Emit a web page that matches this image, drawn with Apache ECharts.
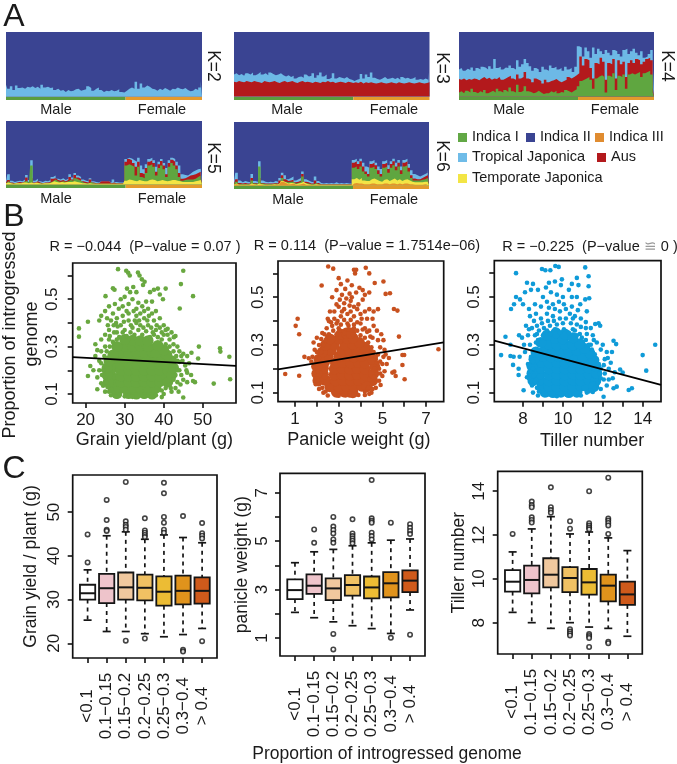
<!DOCTYPE html>
<html><head><meta charset="utf-8">
<style>html,body{margin:0;padding:0;background:#fff}#c{width:677px;height:764px}</style>
<script src="https://cdn.jsdelivr.net/npm/echarts@6/dist/echarts.min.js"></script>
</head><body><div id="c"></div>
<script>
var FONT='"Liberation Sans",Arial,sans-serif';
var NAVY='#3a4492',LTBLUE='#6db9e6',RED='#b3191c',GREEN='#5fa640',YELLOW='#f3e545',ORANGE='#e2942c';

// ---------- Panel A: admixture profiles (upper edge of each layer, % of the sample) ----------
var nMale=47;
var k2Blue=[18,12,16,10,17,13,14,12,15,14,16,13,15,12,18,14,15,13,14,10,12,9,10,7,10,8,9,11,12,9,10,11,16,13,9,12,14,10,7,9,8,10,8,9,11,7,6, 9,12,14,12,23,12,20,14,17,15,12,11,9,12,10,13,11,9,12,11,14,12,11,13,10,8,9,12,10,14,24];

var k3Blue=[34,36,33,35,32,36,34,37,33,35,38,34,36,33,37,35,33,34,36,33,31,33,30,32,28,30,31,29,34,31,32,36,29,33,37,31,34,27,29,36,28,30,29,28,30,27,26, 24,26,27,35,28,34,30,37,29,27,26,28,30,27,28,29,27,29,26,30,28,29,27,28,30,26,27,26,28,26,38];
var k3Red=[23,22,24,23,22,24,23,22,24,23,22,21,24,23,22,23,24,22,21,23,24,22,23,24,22,21,23,24,22,23,22,21,23,22,21,23,22,24,22,23,21,22,23,22,21,23,22, 21,22,21,23,20,22,21,22,21,20,21,22,21,20,21,22,21,20,22,21,20,21,22,21,20,21,22,21,20,21,22];

var k4Blue=[42,44,40,43,41,45,40,44,42,46,45,42,47,43,58,44,46,42,45,44,48,44,42,56,46,50,58,52,47,40,44,42,38,46,42,40,48,44,46,42,44,40,46,42,44,38,46, 78,76,62,76,70,60,76,66,74,70,66,72,68,64,72,70,66,62,72,74,66,70,74,68,64,70,60,62,66,72,54];
var k4Red=[27,26,28,25,27,26,28,27,25,28,30,27,29,26,28,27,30,26,28,30,32,28,26,34,28,30,38,28,26,22,28,26,24,20,26,22,24,25,27,24,22,24,26,30,28,30,33, 36,62,48,58,56,44,28,52,50,60,54,26,52,50,58,28,56,50,54,30,52,56,52,58,56,50,54,58,60,56,14];
var k4Green=[6,8,5,9,6,12,7,5,8,6,10,5,7,9,6,12,8,6,10,7,14,8,6,18,7,9,16,8,7,5,6,9,6,4,5,5,8,6,9,5,7,6,10,8,6,9,11, 16,24,26,28,30,26,12,28,31,33,30,6,32,30,36,10,32,30,34,12,34,36,34,36,38,30,36,38,40,34,6];

var k5Blue=[4,16,6,4,5,6,5,8,15,7,38,6,9,5,4,6,5,7,12,14,9,8,10,7,9,16,11,18,14,12,8,6,5,10,5,4,3,5,5,5,5,3,8,4,3,3,3, 40,42,41,38,36,42,30,24,32,40,42,38,28,36,40,34,26,38,42,40,36,30,16,15,14,17,20,22,24,25,22];
var k5Red=[3,7,3,2,3,4,3,5,11,4,10,3,5,3,2,3,3,4,9,10,7,6,7,5,7,12,8,15,11,9,5,4,3,8,3,2,2,5,5,5,5,2,3,2,2,2,2, 36,40,38,34,28,36,18,16,26,36,38,34,20,32,37,30,16,34,39,36,30,18,9,10,12,14,15,16,18,20,16];
var k5Green=[2,5,2,1,2,2,2,3,6,3,30,2,3,2,1,2,2,3,5,8,5,4,5,4,5,7,6,10,8,6,3,2,2,4,2,1,1,1,1,1,1,1,1,1,1,1,1, 30,32,30,28,14,28,12,10,18,30,32,28,14,26,30,24,12,28,34,30,24,12,6,7,8,8,8,9,12,14,10];
var k5Yellow=[2,3,2,1,2,2,2,3,3,2,3,2,3,2,1,2,2,2,3,5,4,3,4,3,4,4,4,5,4,3,2,2,1,2,1,1,1,1,1,1,1,1,1,1,1,1,1, 6,8,7,6,5,7,6,5,5,7,8,7,5,6,7,6,5,6,7,7,6,5,4,4,4,4,4,5,6,7,6];

var k6Blue=[6,20,8,5,7,6,5,18,7,6,38,8,6,5,6,5,7,6,12,20,16,10,12,14,8,10,12,22,10,8,6,5,14,7,4,3,4,3,4,3,5,3,4,3,4,3,3, 40,42,38,42,36,30,28,38,40,36,30,26,38,40,32,38,42,36,40,30,40,42,34,24,18,16,14,16,18,20,26];
var k6Red=[3,10,4,3,4,3,3,12,4,3,12,4,3,3,3,3,4,3,8,16,10,7,8,9,5,6,8,18,6,5,3,3,8,4,2,2,2,2,2,2,2,2,2,2,2,2,2, 36,38,34,38,30,22,18,34,36,32,24,18,34,36,26,34,38,30,36,24,36,38,28,16,11,10,10,12,14,16,22];
var k6Green=[2,6,2,2,2,2,2,8,3,2,30,3,2,2,2,2,3,2,5,12,6,5,6,6,3,4,6,14,4,3,2,2,4,2,1,1,1,1,1,1,1,1,1,1,1,1,1, 28,30,26,30,22,18,14,28,30,26,18,14,28,30,20,28,32,24,30,18,30,32,22,12,8,8,8,9,10,12,14];
var k6Yellow=[1,3,1,1,1,1,1,3,2,1,3,2,1,1,1,1,2,1,3,7,5,3,4,4,2,3,4,6,3,2,1,1,2,1,1,1,1,1,1,1,1,1,1,1,1,1,1, 10,12,9,12,8,7,7,10,11,9,7,6,9,10,7,9,11,8,10,7,9,10,8,6,5,5,5,5,6,6,7];
var k6Orange=[1,2,1,0,1,0,1,1,1,0,1,1,0,1,0,1,1,1,2,6,4,2,2,3,1,1,2,3,1,1,1,0,1,1,0,0,0,0,0,0,0,0,0,0,0,0,0, 3,4,3,3,2,2,2,3,3,2,2,2,3,3,2,3,3,2,3,2,3,3,2,2,1,1,1,1,2,2,2];

var sampleLabels=k2Blue.map(function(_,i){return 's'+i;});

// ---------- Panel B: scatter ----------
// grain yield / plant vs proportion: dense centre, then individually read outer points
var grainCore=[[28,.102],[31,.102],[33,.1],[35,.102],[37,.1],[27,.125],[28.5,.127],[30,.125],[32,.127],[34,.125],[36,.127],[38,.125],
[27,.152],[29,.15],[31,.152],[33,.15],[35,.152],[37,.15],[39,.152],[26.5,.177],[29,.175],[31,.177],[33,.175],[35,.177],[37,.175],[39,.177],[40.5,.175],
[26.5,.202],[29,.2],[31,.202],[33,.2],[35,.202],[37,.2],[39,.202],[41,.2],[27,.227],[29,.225],[31,.227],[33,.225],[35,.227],[37,.225],[39,.227],[40.5,.225],
[28,.252],[30,.25],[32,.252],[34,.25],[36,.252],[38,.25],[39.5,.252],[29,.277],[31,.275],[33,.277],[35,.275],[37,.277],[38,.275],[30,.302],[32,.3],[34,.302],[36,.3],[32,.327],[34,.325],
[25.8,.15],[25.5,.18],[25.5,.21],[26,.24],[27,.265],[41,.15],[42,.18],[42.5,.21],[42,.24],[40.8,.265],[40,.285],[38.5,.305],[28,.3],[30,.33],[36,.325]];
var grainOuter=[[28.3,.627],[30.4,.62],[30.9,.612],[31.3,.6],[33.4,.613],[33.8,.6],[45,.62],[44.4,.564],[34.4,.584],[35.1,.574],[34.7,.56],[27,.546],[27.4,.54],[47.5,.513],[44.1,.461],[25.1,.513],[20.6,.405],[18.3,.377],[18.3,.342],[49,.3],[47.1,.274],[48.8,.25],[54.4,.293],[54.5,.279],[56.8,.257],[57,.162],[52.8,.144],[45,.085],[20.6,.176],[21.2,.218],
[30.6,.545],[31.4,.53],[32.2,.552],[33,.53],[30,.51],[29,.5],[27.5,.48],[26,.47],[25,.45],[24,.43],[23.5,.41],[25.5,.42],[27,.44],[28.5,.46],[29.5,.47],[31,.48],[32,.5],[33.5,.485],[34.5,.47],[35.5,.49],[36.5,.53],[37.5,.54],[38.5,.545],[39,.52],[40.5,.545],[39.8,.5],[37,.49],[36,.46],[35,.45],[33,.46],[31,.44],[29.5,.43],[28,.42],[26.5,.41],[29,.39],[31,.41],[33,.43],[35,.42],[37,.44],[38,.45],[39,.42],[40,.39],[41,.375],[42,.36],[43,.345],[37.5,.41],[36,.39],[34,.39],[32,.38],[30,.37],[28,.36],[26,.37],[25,.35],[24,.33],[22.5,.31],[23,.285],[22.5,.26],[23.5,.24],[22,.2],[23,.17],[24,.145],[23,.12],[25,.11],[24,.23],[25,.3],[26,.33],[38,.37],[40,.35],[41.5,.33],[42.5,.31],[43.5,.3],[44,.28],[44.5,.26],[45,.27],[44,.235],[45.5,.22],[44,.2],[46,.19],[47,.18],[45,.16],[46,.15],[47.5,.155],[48,.15],[43.5,.15],[43,.125],[42,.11],[40,.1],[38,.095],[39.5,.087],[32,.088],[28,.09],[30,.09],[35,.09],[37,.088],[24.5,.135],[40.5,.37],[42.6,.34],[46,.26],[46.5,.23],
[26.2,.345],[27.3,.36],[28.6,.34],[29.5,.36],[30.5,.345],[31.5,.36],[32.5,.35],[33.5,.37],[34.5,.35],[35.5,.365],[36.5,.34],[37.5,.35],[38.5,.34],[39.5,.33],[40.5,.31],[41.5,.3],[42.5,.28],[43.2,.26],[43.5,.24],[42.8,.22],[43.5,.2],[43,.18],[42.5,.16],[41.5,.14],[40.5,.125],[39.5,.115],[41.8,.125],[24.5,.2],[25,.17],[25.3,.15],[25.6,.13],[26,.11],[26.5,.095],[24.8,.26],[25.4,.28],[26.2,.3],[27,.32],[28,.33],[24,.28],[23.5,.2],[24.2,.18],[27.2,.39],[28.2,.385],[29.8,.405],[32.6,.41],[33.7,.41],[35.8,.41],[36.8,.38],[38.2,.39],[39,.38],[39.5,.36],[30.5,.45],[32.3,.45],[34,.44],[36.2,.43],[27.8,.4],[25.7,.39],[31.6,.39],[33,.4],[34.8,.38],[37.2,.36],[41,.35],[44.8,.24],[45.8,.2],[44.5,.18],[44.3,.14],[43.8,.11]];
var panicleCore=[[2.9,.102],[3.3,.102],[3.65,.1],[2.6,.125],[3,.125],[3.35,.127],[3.7,.125],[4.05,.127],
[2.4,.152],[2.85,.15],[3.2,.152],[3.55,.15],[3.9,.152],[4.25,.15],[2.3,.177],[2.8,.175],[3.15,.177],[3.5,.175],[3.85,.177],[4.2,.175],
[2.3,.202],[2.8,.2],[3.15,.202],[3.5,.2],[3.85,.202],[4.2,.2],[2.35,.227],[2.85,.225],[3.2,.227],[3.55,.225],[3.9,.227],[4.2,.225],
[2.5,.252],[3,.25],[3.35,.252],[3.7,.25],[4.05,.252],[2.65,.277],[3.15,.275],[3.5,.277],[3.85,.275],[2.8,.3],[3.3,.3],[3.65,.302],[3,.325],[3.4,.327],
[2.05,.15],[2,.18],[2,.21],[2.1,.24],[2.25,.27],[4.55,.15],[4.6,.18],[4.65,.21],[4.55,.24],[4.4,.265],[4.2,.29],[3.95,.31],[2.4,.3],[4.3,.125],[2.6,.325],[3.65,.33],[3.1,.345],[3.35,.35],[3.55,.35]];
var panicleOuter=[[1.12,.41],[1.03,.38],[1.19,.345],[1.43,.25],[1.63,.244],[1.19,.171],[.55,.178],[2.22,.549],[2.52,.629],[2.75,.62],[7.57,.282],[5.76,.335],[5.92,.258],[6,.258],[5.92,.216],[6.02,.156],[5.61,.17],[5.46,.184],[5.55,.188],[5,.17],[4.92,.132],[5.69,.444],[5.53,.451],[5.35,.517],[5.15,.514],[5.05,.566],[4.65,.56],[4.24,.624],[4.4,.6],[3.7,.615],[3.8,.615],[3.75,.6],
[3,.58],[3.1,.555],[2.9,.53],[3.4,.57],[3.6,.55],[3.3,.535],[3.5,.515],[3.15,.51],[3.05,.49],[3.35,.495],[3.6,.5],[3.8,.52],[3.95,.54],[4.1,.53],[4.2,.51],[4.4,.52],[4.1,.49],[3.9,.47],[3.7,.46],[3.5,.465],[3.25,.45],[3,.46],[2.8,.44],[2.6,.44],[2.5,.41],[2.8,.41],[3.1,.42],[3.4,.43],[3.7,.42],[4,.43],[4.2,.44],[4.4,.45],[4.6,.44],[4.8,.45],[4.55,.41],[4.3,.41],[4,.39],[3.7,.385],[3.4,.39],[3.1,.385],[2.7,.38],[2.45,.37],[2.25,.35],[2,.33],[1.85,.31],[2.2,.325],[4.2,.37],[4.4,.36],[4.6,.38],[4.75,.36],[4.95,.345],[4.8,.32],[4.55,.33],[5.05,.32],[4.9,.29],[5.1,.28],[4.8,.26],[5.05,.25],[5.3,.245],[5,.22],[5.2,.22],[4.85,.2],[5.1,.19],[4.85,.15],[4.7,.12],[4.5,.1],[1.9,.28],[1.8,.25],[1.85,.21],[1.75,.23],[1.9,.185],[2,.16],[1.95,.135],[2.1,.115],[2.3,.1],[2.5,.088],[3,.087],[3.5,.088],[3.2,.09],[3.9,.09],[4.2,.09],[2.9,.47],[2.7,.5],
[2.55,.345],[2.75,.36],[2.9,.345],[3.05,.36],[3.25,.35],[3.45,.365],[3.65,.345],[3.85,.36],[4,.34],[4.2,.33],[4.35,.31],[4.5,.29],[4.6,.27],[4.7,.25],[4.75,.225],[4.65,.2],[4.75,.18],[4.6,.165],[4.55,.14],[4.35,.12],[4.2,.105],[2.05,.19],[2.05,.22],[2.1,.245],[2.2,.27],[2.3,.3],[2.4,.32],[2.1,.3],[2,.27],[2.05,.15],[2.1,.135],[2.25,.12],[2.4,.105],[4.45,.335],[4.3,.355],[4.1,.365],[3.85,.395],[3.55,.405],[3.25,.405],[2.95,.4],[2.65,.395],[2.35,.345],[3.15,.44],[3.55,.44],[3.85,.45],[3.45,.38],[3,.37],[3.7,.37],[4.05,.41],[2.9,.39],[2.55,.4],[3.25,.475],[3.55,.485],[4.9,.23],[4.55,.115],[4.4,.095],[4.9,.18],[5.15,.26]];
var tillerCore=[[9.1,.102],[9.5,.1],[9.9,.102],[10.3,.1],[10.7,.102],[8.95,.125],[9.3,.127],[9.7,.125],[10.1,.127],[10.5,.125],[10.9,.127],[11.2,.125],
[8.85,.152],[9.3,.15],[9.7,.152],[10.1,.15],[10.5,.152],[10.9,.15],[11.3,.152],[8.85,.177],[9.3,.175],[9.7,.177],[10.1,.175],[10.5,.177],[10.9,.175],[11.3,.177],
[8.85,.202],[9.3,.2],[9.7,.202],[10.1,.2],[10.5,.202],[10.9,.2],[11.3,.202],[8.9,.227],[9.3,.225],[9.7,.227],[10.1,.225],[10.5,.227],[10.9,.225],[11.2,.227],
[9,.252],[9.4,.25],[9.8,.252],[10.2,.25],[10.6,.252],[11,.25],[9.1,.277],[9.5,.275],[9.9,.277],[10.3,.275],[10.7,.277],[9.3,.302],[9.7,.3],[10.1,.302],[10.5,.3],[9.6,.327],[10,.325],
[8.5,.15],[8.45,.18],[8.45,.21],[8.55,.24],[8.65,.27],[11.65,.15],[11.7,.18],[11.65,.21],[11.55,.235],[11.35,.265],[11.1,.285],[10.85,.305],[8.9,.31],[9.2,.34],[9.65,.35],[10.1,.345],[10.5,.33],[11.55,.125]];
var tillerOuter=[[7.65,.6],[9.62,.63],[9.79,.626],[11.12,.624],[11.29,.587],[8.95,.617],[9.12,.612],[9.37,.612],[9.95,.574],[6.9,.257],[7.12,.334],[7.37,.3],[7.37,.253],[7.53,.25],[7.83,.25],[7.5,.216],[7.78,.2],[7.78,.174],[8.2,.164],[8.03,.11],[12.04,.083],[14.63,.3],[14,.257],[14.18,.192],[13.3,.111],[13.46,.118],[13,.184],[12.87,.197],[12.7,.125],[12.54,.118],[12.54,.317],[12.67,.303],[12.46,.27],[11.79,.39],[11.62,.387],[11.87,.38],
[10.7,.58],[10.78,.55],[10.45,.555],[11.29,.545],[11.32,.495],[11.12,.49],[10.87,.47],[11.2,.44],[10.7,.5],[10.45,.5],[10.3,.53],[9.9,.55],[9.6,.565],[9.3,.56],[9.15,.54],[9.4,.52],[9.7,.51],[10,.5],[9.8,.48],[9.5,.47],[9.2,.48],[9,.5],[8.75,.53],[8.5,.555],[8.2,.56],[8.4,.53],[8.1,.52],[7.85,.49],[7.65,.5],[7.55,.47],[7.4,.45],[8,.47],[8.3,.45],[8.6,.47],[8.9,.46],[8.65,.43],[8.35,.42],[8.9,.41],[9.2,.43],[9.5,.42],[9.85,.44],[10.15,.45],[10.35,.43],[10.6,.42],[10.9,.41],[11.15,.395],[10.7,.385],[10.4,.39],[10,.39],[9.7,.385],[9.35,.38],[9.05,.37],[8.7,.38],[8.45,.37],[8.15,.38],[8.25,.34],[7.95,.33],[8.05,.3],[7.8,.34],[8.35,.3],[8.1,.27],[8.4,.25],[8.25,.22],[8.35,.19],[8.3,.16],[8.45,.13],[8.5,.1],[8.75,.088],[9.2,.09],[9.7,.085],[10.2,.09],[10.9,.088],[11.2,.1],[11.5,.103],[11.9,.115],[12.2,.13],[12.3,.155],[12.5,.16],[12.6,.185],[12.3,.2],[12.4,.225],[12.1,.24],[12.2,.27],[11.9,.28],[11.7,.31],[11.4,.3],[11.5,.34],[11.2,.345],[11.15,.37],[10.85,.345],
[8.6,.34],[8.8,.36],[9,.34],[9.2,.36],[9.4,.345],[9.6,.365],[9.85,.35],[10.05,.365],[10.3,.35],[10.5,.365],[10.7,.34],[10.95,.33],[11.15,.32],[11.3,.3],[11.45,.28],[11.6,.26],[11.7,.24],[11.8,.22],[11.9,.2],[11.85,.18],[11.9,.16],[11.75,.14],[11.6,.12],[11.3,.105],[8.65,.31],[8.75,.32],[8.6,.28],[8.55,.26],[8.5,.23],[8.5,.2],[8.55,.17],[8.6,.145],[8.7,.12],[8.8,.105],[12.05,.215],[12.1,.18],[12.05,.155],[9.25,.4],[9.55,.4],[9.85,.41],[10.15,.41],[10.5,.41],[10.9,.375],[10.6,.36],[8.95,.39],[8.55,.4],[9.6,.45],[10.05,.47],[9.3,.455],[10.45,.46],[10.75,.445],[8.7,.345],[8.3,.365],[11.4,.37],[11.55,.32],[12,.3],[12.25,.245],[11.4,.11]];
// regression lines: [x, y] at each edge of the plot
var grainFit=[[16.7,.256],[58.5,.219]];
var panicleFit=[[.22,.198],[7.81,.311]];
var tillerFit=[[6.56,.318],[14.92,.132]];

// ---------- Panel C: box plots ----------
var groups=['<0.1','0.1\u22120.15','0.15\u22120.2','0.2\u22120.25','0.25\u22120.3','0.3\u22120.4','> 0.4'];
var groupColors=['#ffffff','#eec4cb','#f0c89e','#f0c163','#ecbc34','#e0931c','#cf5a1b'];
// each row: low whisker, Q1, median, Q3, high whisker
var grainBox=[[25.3,30,31.45,33.4,36.8],[22.7,29.2,32.6,35.9,44.6],[22.7,30,32.8,36.2,45.5],[22.2,29.8,32.7,35.7,43.8],[21.5,28.6,31.8,35.3,44.8],[22,28.9,32,35.5,44.2],[23.4,29.1,32,35.1,43]];
var grainOut=[[1,38.5],[1,44.9],[2,52.8],[2,48.2],[2,46],[2,45.7],[3,20.6],[3,56.9],[3,47.9],[3,47.1],[3,46.6],[3,46],[4,21.1],[4,48.6],[4,45.8],[4,45.3],[4,44.8],[4,44.3],[5,56.7],[5,54.3],[5,48.9],[5,47.6],[5,46],[5,45.3],[6,18.5],[6,18.1],[6,49.1],[7,20.5],[7,47.5],[7,45.2],[7,44.6],[7,44]];
var panicleBox=[[2.06,2.61,2.98,3.42,4.11],[1.84,2.82,3.16,3.63,4.56],[1.67,2.57,3.05,3.46,4.66],[1.51,2.75,3.19,3.6,4.81],[1.39,2.64,3.09,3.54,4.93],[1.19,2.68,3.26,3.72,5.04],[2.16,2.9,3.37,3.79,5.09]];
var panicleOut=[[2,4.93],[2,5.48],[3,1.17],[3,.53],[3,6],[3,5.6],[3,5.46],[3,5.32],[3,5.07],[3,4.93],[4,5.9],[4,5.32],[4,5.21],[4,5.11],[4,5.02],[4,4.91],[5,7.52],[5,5.94],[5,5.84],[5,5.76],[5,5.35],[5,5.21],[5,5.07],[6,1.01],[6,5.76],[7,1.14],[7,5.7],[7,5.55],[7,5.42],[7,5.29]];
var tillerBox=[[8.47,9.42,9.87,10.4,11.23],[8,9.34,9.95,10.6,12.28],[7.74,9.61,10.19,10.94,12.84],[8,9.39,10.04,10.54,12.05],[7.8,9.28,9.84,10.45,12.14],[7.74,8.97,9.69,10.19,11.87],[7.38,8.81,9.29,9.87,11.29]];
var tillerOut=[[1,12.05],[2,13.53],[2,13.37],[2,13.27],[2,12.81],[2,12.69],[2,12.57],[3,14.18],[3,13.27],[3,13.14],[3,13.02],[4,12.63],[4,12.29],[4,7.7],[4,7.6],[4,7.51],[4,7.42],[5,14],[5,12.54],[5,12.44],[5,12.35],[5,12.26],[5,7.48],[5,7.39],[5,7.3],[5,6.89],[6,14.62],[6,12.76],[6,12.66],[6,12.55],[6,12.44],[6,12.05],[6,7.13],[6,7.06]];

// ---------- option building ----------
var grids=[],xAxes=[],yAxes=[],series=[],graphics=[];
function rect(l,t,r,b,border){var g={left:l,top:t,width:r-l,height:b-t,containLabel:false};if(border){g.show=true;g.borderColor='#111';g.borderWidth=1.7;g.backgroundColor='transparent';}grids.push(g);return grids.length-1;}
function txt(x,y,s,size,rot,extra){var st={text:s,fontSize:size,fontFamily:FONT,fill:'#1a1a1a',align:'center',verticalAlign:'middle'};if(extra)for(var k in extra)st[k]=extra[k];graphics.push({type:'text',x:x,y:y,rotation:rot||0,style:st,silent:true});}

function admix(l,t,r,b,layers,colors){
  var i=rect(l,t,r,b,false);
  xAxes.push({gridIndex:i,type:'category',data:sampleLabels,show:false,boundaryGap:false});
  yAxes.push({gridIndex:i,type:'value',min:-5.5,max:100,show:false});
  var all=sampleLabels.map(function(){return 100;});
  series.push({type:'line',xAxisIndex:i,yAxisIndex:i,data:all,step:'middle',symbol:'none',silent:true,animation:false,lineStyle:{width:0},areaStyle:{color:NAVY,opacity:1,origin:0},
    markArea:{silent:true,data:[[{xAxis:0,yAxis:-5.5,itemStyle:{color:'#5a9d3e',opacity:1}},{xAxis:nMale,yAxis:0}],[{xAxis:nMale,yAxis:-5.5,itemStyle:{color:'#e39a2c',opacity:1}},{xAxis:sampleLabels.length-1,yAxis:0}]]}});
  layers.forEach(function(d,j){series.push({type:'line',xAxisIndex:i,yAxisIndex:i,data:d,step:'middle',symbol:'none',silent:true,animation:false,lineStyle:{width:0},areaStyle:{color:colors[j],opacity:1,origin:0}});});
}
admix(6,32,202,100,[k2Blue],[LTBLUE]);
admix(234,32,429.5,100,[k3Blue,k3Red],[LTBLUE,RED]);
admix(459,32,654,100,[k4Blue,k4Red,k4Green],[LTBLUE,RED,GREEN]);
admix(6,121,202,188,[k5Blue,k5Red,k5Green,k5Yellow],[LTBLUE,RED,GREEN,YELLOW]);
admix(234,122,429,189,[k6Blue,k6Red,k6Green,k6Yellow,k6Orange],[LTBLUE,RED,GREEN,YELLOW,ORANGE]);

var tickLine={show:true,length:5,inside:false,lineStyle:{color:'#111',width:1.6}};
function scatter(box,xr,xt,xl,yr,name,namePad,core,outer,fit,color,gap){
  var i=rect(box[0],box[1],box[2],box[3],true);
  xAxes.push({gridIndex:i,type:'value',min:xr[0],max:xr[1],splitLine:{show:false},axisLine:{show:false},
    axisTick:Object.assign({},tickLine,{customValues:xt}),
    axisLabel:{customValues:xl,fontFamily:FONT,fontSize:17,color:'#1a1a1a',margin:9},
    name:name,nameLocation:'middle',nameGap:gap,nameTextStyle:{fontFamily:FONT,fontSize:18,color:'#1a1a1a',padding:namePad}});
  yAxes.push({gridIndex:i,type:'value',min:yr[0],max:yr[1],splitLine:{show:false},axisLine:{show:false},
    axisTick:Object.assign({},tickLine,{customValues:[.1,.2,.3,.4,.5,.6]}),
    axisLabel:{customValues:[.1,.3,.5],rotate:90,align:'center',verticalAlign:'middle',margin:20,fontFamily:FONT,fontSize:17,color:'#1a1a1a',formatter:function(v){return v.toFixed(1);}}});
  series.push({type:'scatter',xAxisIndex:i,yAxisIndex:i,data:core,symbolSize:11,itemStyle:{color:color,opacity:1},silent:true,animation:false});
  series.push({type:'scatter',xAxisIndex:i,yAxisIndex:i,data:outer,symbolSize:4.6,itemStyle:{color:color,opacity:1},silent:true,animation:false});
  series.push({type:'line',xAxisIndex:i,yAxisIndex:i,data:fit,symbol:'none',lineStyle:{color:'#000',width:1.8},silent:true,animation:false,z:5});
}
scatter([72.7,263,236,403],[16.7,58.5],[20,30,40,50],[20,30,40,50],[.062,.653],'Grain yield/plant (g)',[0,0,0,0],grainCore,grainOuter,grainFit,'#69a840',28);
scatter([278,261,443.7,401.7],[.22,7.81],[1,2,3,4,5,6,7],[1,3,5,7],[.062,.652],'Panicle weight (g)',[0,4,0,0],panicleCore,panicleOuter,panicleFit,'#c8511f',29);
scatter([494.3,260.7,661,401.7],[6.56,14.92],[8,9,10,11,12,13,14],[8,10,12,14],[.062,.652],'Tiller number',[0,0,0,29],tillerCore,tillerOuter,tillerFit,'#0f9bd8',30);

function boxRender(params,api){
  var x=api.value(0),lo=api.value(1),q1=api.value(2),med=api.value(3),q3=api.value(4),hi=api.value(5);
  var idx=api.value(6);
  var hw=api.size([.4,0])[0],cw=api.size([.21,0])[0];
  var px=api.coord([x,med])[0];
  function yy(v){return api.coord([x,v])[1];}
  var stroke={stroke:'#151515',lineWidth:1.7,fill:null};
  var dash={stroke:'#151515',lineWidth:1.7,lineDash:[4,4],fill:null};
  return {type:'group',children:[
    {type:'line',shape:{x1:px,y1:yy(hi),x2:px,y2:yy(q3)},style:dash},
    {type:'line',shape:{x1:px,y1:yy(q1),x2:px,y2:yy(lo)},style:dash},
    {type:'line',shape:{x1:px-cw,y1:yy(hi),x2:px+cw,y2:yy(hi)},style:stroke},
    {type:'line',shape:{x1:px-cw,y1:yy(lo),x2:px+cw,y2:yy(lo)},style:stroke},
    {type:'rect',shape:{x:px-hw,y:yy(q3),width:2*hw,height:yy(q1)-yy(q3)},style:{stroke:'#151515',lineWidth:1.8,fill:groupColors[idx]}},
    {type:'line',shape:{x1:px-hw,y1:yy(med),x2:px+hw,y2:yy(med)},style:{stroke:'#151515',lineWidth:2,fill:null}}
  ]};
}
function boxes(box,yr,yt,yl,name,nameGap,boxData,outData){
  var i=rect(box[0],box[1],box[2],box[3],true);
  xAxes.push({gridIndex:i,type:'value',min:.22,max:7.78,splitLine:{show:false},axisLine:{show:false},
    axisTick:Object.assign({},tickLine,{customValues:[1,2,3,4,5,6,7]}),
    axisLabel:{customValues:[1,2,3,4,5,6,7],rotate:90,align:'center',verticalAlign:'middle',margin:48,fontFamily:FONT,fontSize:17,color:'#1a1a1a',formatter:function(v){return groups[v-1];}}});
  yAxes.push({gridIndex:i,type:'value',min:yr[0],max:yr[1],splitLine:{show:false},axisLine:{show:false},
    axisTick:Object.assign({},tickLine,{customValues:yt}),
    axisLabel:{customValues:yl,rotate:90,align:'center',verticalAlign:'middle',margin:18,fontFamily:FONT,fontSize:17,color:'#1a1a1a'},
    name:name,nameLocation:'middle',nameGap:nameGap,nameRotate:90,nameTextStyle:{fontFamily:FONT,fontSize:17.5,color:'#1a1a1a'}});
  series.push({type:'custom',xAxisIndex:i,yAxisIndex:i,renderItem:boxRender,silent:true,animation:false,
    encode:{x:0,y:[1,2,3,4,5]},clip:false,
    data:boxData.map(function(r,k){return [k+1,r[0],r[1],r[2],r[3],r[4],k];})});
  series.push({type:'scatter',xAxisIndex:i,yAxisIndex:i,data:outData,symbol:'circle',symbolSize:4.4,itemStyle:{color:'#fff',borderColor:'#151515',borderWidth:1.6},silent:true,animation:false,z:4});
}
boxes([72.7,475,217,658],[16.64,58.5],[20,30,40,50],[20,30,40,50],'Grain yield / plant (g)',33,grainBox,grainOut);
boxes([280,473.3,425,656],[.26,7.8],[1,2,3,4,5,6,7],[1,3,5,7],'panicle weight (g)',29,panicleBox,panicleOut);
boxes([497.7,471.3,642.3,654],[6.57,14.91],[8,10,12,14],[8,10,12,14],'Tiller number',30,tillerBox,tillerOut);

// ---------- text and legend ----------
var L=-Math.PI/2,U=Math.PI/2;
txt(14,17,'A',32);txt(14,217,'B',32);txt(14,469,'C',32);
[[56,110],[287,110],[509,110],[56,199],[288,200]].forEach(function(p){txt(p[0],p[1],'Male',14.5);});
[[162,110],[394,110],[615,110],[162,199],[394,200]].forEach(function(p){txt(p[0],p[1],'Female',14.5);});
txt(213,66,'K=2',17.5,L);txt(442,68,'K=3',17.5,L);txt(667,66,'K=4',17.5,L);txt(213,158,'K=5',17.5,L);txt(442,156,'K=6',17.5,L);
[[458,133,'#62a845'],[526,133,NAVY],[595,133,'#e08c30'],[458,153,'#6fbce8'],[597,153,RED],[458,174,YELLOW]].forEach(function(p){
  graphics.push({type:'rect',shape:{x:p[0],y:p[1],width:9,height:9},style:{fill:p[2]},silent:true});});
[[472,137,'Indica I'],[540,137,'Indica II'],[609,137,'Indica III'],[472,157,'Tropical Japonica'],[611,157,'Aus'],[472,178,'Temporate Japonica']].forEach(function(p){txt(p[0],p[1],p[2],14.5,0,{align:'left'});});
txt(145,247,'R = \u22120.044  (P\u2212value = 0.07 )',14.5);
txt(367,246,'R = 0.114  (P\u2212value = 1.7514e\u221206)',14.5);
txt(590,247,'R = \u22120.225  (P\u2212value {g|\u224C} 0 )',14.5,0,{rich:{g:{fill:'#999',fontSize:14.5,fontFamily:FONT}}});
txt(10,335,'Proportion of introgressed',18,U);
txt(32,334,'genome',18,U);
txt(387,754,'Proportion of introgressed genome',17.5);

var chart=echarts.init(document.getElementById('c'),null,{renderer:'canvas'});
chart.setOption({animation:false,backgroundColor:'#fff',tooltip:{show:false},grid:grids,xAxis:xAxes,yAxis:yAxes,series:series,graphic:graphics});
</script></body></html>
